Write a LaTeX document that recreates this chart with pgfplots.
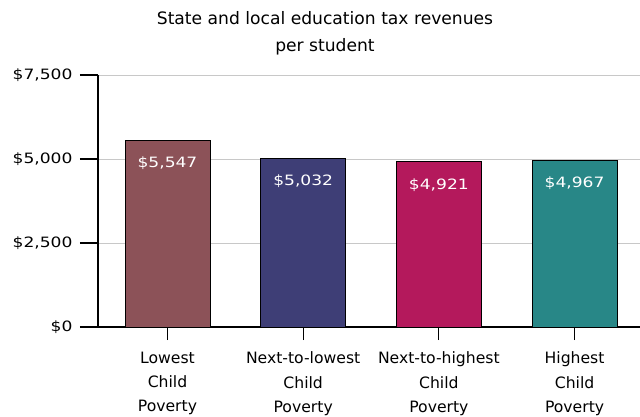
\documentclass[border=0pt]{standalone}
\usepackage{pgfplots}
\pgfplotsset{compat=1.18}
\usepackage{fontspec}
\setmainfont{DejaVu Sans}
\newfontfamily\numfont[FakeStretch=1.2]{DejaVu Sans}
\definecolor{c1}{RGB}{140,82,88}
\definecolor{c2}{RGB}{62,62,118}
\definecolor{c3}{RGB}{180,25,92}
\definecolor{c4}{RGB}{40,135,135}
\definecolor{gridc}{RGB}{200,200,200}
\begin{document}
\begin{tikzpicture}
\path[use as bounding box] (-98bp,-90bp) rectangle (542bp,327bp);
\begin{axis}[
  at={(0bp,0bp)}, anchor=south west,
  scale only axis, width=542bp, height=252bp,
  xmin=-0.512, xmax=3.482, ymin=0, ymax=7500,
  axis lines*=left,
  axis line style={black, line width=1.2bp, -},
  ytick={0,2500,5000,7500},
  yticklabels={{\$0},{\$2,500},{\$5,000},{\$7,500}},
  xtick={0,1,2,3},
  xticklabels={{Lowest\\Child\\Poverty},{Next-to-lowest\\Child\\Poverty},{Next-to-highest\\Child\\Poverty},{Highest\\Child\\Poverty}},
  xticklabel style={align=center, font=\fontsize{15.7}{24.3}\selectfont, yshift=-3.5bp},
  yticklabel style={font=\numfont\fontsize{14.3}{16}\selectfont, xshift=-4bp},
  tick align=outside,
  major tick length=18bp,
  tick style={black, line width=1.2bp},
  xtick style={/pgfplots/major tick length=13bp},
  ymajorgrids, grid style={gridc, line width=1bp},
  ybar, bar width=85bp, bar shift=0pt,
  nodes near coords, point meta=explicit symbolic,
  every node near coord/.append style={anchor=center, yshift=-23bp, text=white, font=\numfont\fontsize{14.3}{16}\selectfont},
  clip=false,
]
\addplot[fill=c1, draw=black, line width=0.8bp] coordinates {(0,5547) [\$5,547]};
\addplot[fill=c2, draw=black, line width=0.8bp] coordinates {(1,5032) [\$5,032]};
\addplot[fill=c3, draw=black, line width=0.8bp] coordinates {(2,4921) [\$4,921]};
\addplot[fill=c4, draw=black, line width=0.8bp] coordinates {(3,4967) [\$4,967]};
\end{axis}
\node[font=\fontsize{17.2}{19}\selectfont] at (227bp,309bp) {State and local education tax revenues};
\node[font=\fontsize{17.2}{19}\selectfont] at (227bp,280bp) {per student};
\end{tikzpicture}
\end{document}
